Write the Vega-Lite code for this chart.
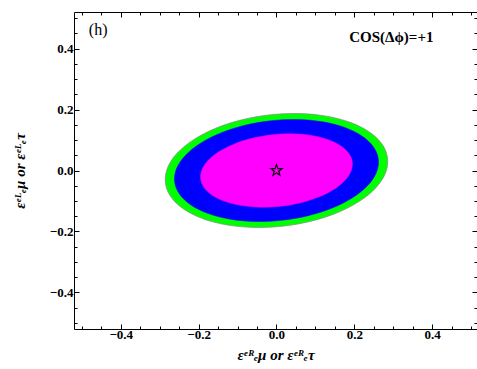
{
  "$schema": "https://vega.github.io/schema/vega-lite/v6.json",
  "autosize": "none",
  "width": 403,
  "height": 317,
  "padding": {"left": 74, "top": 12, "right": 0, "bottom": 40},
  "background": "white",
  "config": {"view": {"stroke": null}},
  "datasets": {
    "ell": [
      {"c": "g", "i": 0, "x": 0.2854, "y": 0.0396},
      {"c": "g", "i": 1, "x": 0.2717, "y": 0.0856},
      {"c": "g", "i": 2, "x": 0.2394, "y": 0.1257},
      {"c": "g", "i": 3, "x": 0.1908, "y": 0.1573},
      {"c": "g", "i": 4, "x": 0.1292, "y": 0.1781},
      {"c": "g", "i": 5, "x": 0.0589, "y": 0.1868},
      {"c": "g", "i": 6, "x": -0.0155, "y": 0.1828},
      {"c": "g", "i": 7, "x": -0.0889, "y": 0.1663},
      {"c": "g", "i": 8, "x": -0.1562, "y": 0.1385},
      {"c": "g", "i": 9, "x": -0.2128, "y": 0.1012},
      {"c": "g", "i": 10, "x": -0.2549, "y": 0.0571},
      {"c": "g", "i": 11, "x": -0.2797, "y": 0.0091},
      {"c": "g", "i": 12, "x": -0.2854, "y": -0.0396},
      {"c": "g", "i": 13, "x": -0.2717, "y": -0.0856},
      {"c": "g", "i": 14, "x": -0.2394, "y": -0.1257},
      {"c": "g", "i": 15, "x": -0.1908, "y": -0.1573},
      {"c": "g", "i": 16, "x": -0.1292, "y": -0.1781},
      {"c": "g", "i": 17, "x": -0.0589, "y": -0.1868},
      {"c": "g", "i": 18, "x": 0.0155, "y": -0.1828},
      {"c": "g", "i": 19, "x": 0.0889, "y": -0.1663},
      {"c": "g", "i": 20, "x": 0.1562, "y": -0.1385},
      {"c": "g", "i": 21, "x": 0.2128, "y": -0.1012},
      {"c": "g", "i": 22, "x": 0.2549, "y": -0.0571},
      {"c": "g", "i": 23, "x": 0.2797, "y": -0.0091},
      {"c": "b", "i": 0, "x": 0.2616, "y": 0.0363},
      {"c": "b", "i": 1, "x": 0.2491, "y": 0.0773},
      {"c": "b", "i": 2, "x": 0.2196, "y": 0.1131},
      {"c": "b", "i": 3, "x": 0.1752, "y": 0.1412},
      {"c": "b", "i": 4, "x": 0.1188, "y": 0.1596},
      {"c": "b", "i": 5, "x": 0.0543, "y": 0.1672},
      {"c": "b", "i": 6, "x": -0.0139, "y": 0.1633},
      {"c": "b", "i": 7, "x": -0.0811, "y": 0.1484},
      {"c": "b", "i": 8, "x": -0.1428, "y": 0.1233},
      {"c": "b", "i": 9, "x": -0.1948, "y": 0.0898},
      {"c": "b", "i": 10, "x": -0.2335, "y": 0.0502},
      {"c": "b", "i": 11, "x": -0.2563, "y": 0.0072},
      {"c": "b", "i": 12, "x": -0.2616, "y": -0.0363},
      {"c": "b", "i": 13, "x": -0.2491, "y": -0.0773},
      {"c": "b", "i": 14, "x": -0.2196, "y": -0.1131},
      {"c": "b", "i": 15, "x": -0.1752, "y": -0.1412},
      {"c": "b", "i": 16, "x": -0.1188, "y": -0.1596},
      {"c": "b", "i": 17, "x": -0.0543, "y": -0.1672},
      {"c": "b", "i": 18, "x": 0.0139, "y": -0.1633},
      {"c": "b", "i": 19, "x": 0.0811, "y": -0.1484},
      {"c": "b", "i": 20, "x": 0.1428, "y": -0.1233},
      {"c": "b", "i": 21, "x": 0.1948, "y": -0.0898},
      {"c": "b", "i": 22, "x": 0.2335, "y": -0.0502},
      {"c": "b", "i": 23, "x": 0.2563, "y": -0.0072},
      {"c": "m", "i": 0, "x": 0.1947, "y": 0.0270},
      {"c": "m", "i": 1, "x": 0.1855, "y": 0.0565},
      {"c": "m", "i": 2, "x": 0.1636, "y": 0.0821},
      {"c": "m", "i": 3, "x": 0.1306, "y": 0.1021},
      {"c": "m", "i": 4, "x": 0.0887, "y": 0.1151},
      {"c": "m", "i": 5, "x": 0.0407, "y": 0.1203},
      {"c": "m", "i": 6, "x": -0.0100, "y": 0.1174},
      {"c": "m", "i": 7, "x": -0.0600, "y": 0.1064},
      {"c": "m", "i": 8, "x": -0.1060, "y": 0.0881},
      {"c": "m", "i": 9, "x": -0.1447, "y": 0.0639},
      {"c": "m", "i": 10, "x": -0.1736, "y": 0.0353},
      {"c": "m", "i": 11, "x": -0.1906, "y": 0.0043},
      {"c": "m", "i": 12, "x": -0.1947, "y": -0.0270},
      {"c": "m", "i": 13, "x": -0.1855, "y": -0.0565},
      {"c": "m", "i": 14, "x": -0.1636, "y": -0.0821},
      {"c": "m", "i": 15, "x": -0.1306, "y": -0.1021},
      {"c": "m", "i": 16, "x": -0.0887, "y": -0.1151},
      {"c": "m", "i": 17, "x": -0.0407, "y": -0.1203},
      {"c": "m", "i": 18, "x": 0.0100, "y": -0.1174},
      {"c": "m", "i": 19, "x": 0.0600, "y": -0.1064},
      {"c": "m", "i": 20, "x": 0.1060, "y": -0.0881},
      {"c": "m", "i": 21, "x": 0.1447, "y": -0.0639},
      {"c": "m", "i": 22, "x": 0.1736, "y": -0.0353},
      {"c": "m", "i": 23, "x": 0.1906, "y": -0.0043}
    ],
    "star": [{"x": 0, "y": 0}],
    "labels": [
      {"x": -0.458, "y": 0.46, "t": "(h)", "k": "h"},
      {"x": 0.295, "y": 0.438, "t": "COS(Δϕ)=+1", "k": "c"}
    ]
  },
  "layer": [
    {
      "data": {"name": "ell"},
      "transform": [{"filter": "datum.c === 'g'"}],
      "mark": {"type": "line", "interpolate": "cardinal-closed", "fill": "#00ff00", "stroke": "#888888", "strokeWidth": 0.7},
      "encoding": {
        "x": {"field": "x", "type": "quantitative", "scale": {"domain": [-0.52, 0.515], "nice": false, "zero": false},
          "axis": {"orient": "bottom", "title": "εᵉᴿₑμ or εᵉᴿₑτ", "values": [-0.5,-0.45,-0.4,-0.35,-0.3,-0.25,-0.2,-0.15,-0.1,-0.05,0,0.05,0.1,0.15,0.2,0.25,0.3,0.35,0.4,0.45,0.5],
            "format": ".1f", "labelExpr": "abs(datum.value*5-round(datum.value*5))<0.001 ? datum.label : ''",
            "tickSize": {"condition": {"test": "abs(datum.value*5-round(datum.value*5))<0.001", "value": -5}, "value": -3},
            "tickColor": "black", "domainColor": "black", "grid": false, "labelFont": "Liberation Serif", "labelFontWeight": "bold", "labelFontSize": 13, "labelColor": "black", "labelPadding": 4, "labelFlush": false,
            "titleFont": "Liberation Serif", "titleFontWeight": "bold", "titleFontStyle": "italic", "titleFontSize": 15, "titleColor": "black", "titlePadding": 6}},
        "y": {"field": "y", "type": "quantitative", "scale": {"domain": [-0.52, 0.52], "nice": false, "zero": false},
          "axis": {"orient": "left", "title": "εᵉᴸₑμ or εᵉᴸₑτ", "values": [-0.5,-0.45,-0.4,-0.35,-0.3,-0.25,-0.2,-0.15,-0.1,-0.05,0,0.05,0.1,0.15,0.2,0.25,0.3,0.35,0.4,0.45,0.5],
            "format": ".1f", "labelExpr": "abs(datum.value*5-round(datum.value*5))<0.001 ? datum.label : ''",
            "tickSize": {"condition": {"test": "abs(datum.value*5-round(datum.value*5))<0.001", "value": -5}, "value": -3},
            "tickColor": "black", "domainColor": "black", "grid": false, "labelFont": "Liberation Serif", "labelFontWeight": "bold", "labelFontSize": 13, "labelColor": "black", "labelPadding": 6, "labelFlush": false,
            "titleFont": "Liberation Serif", "titleFontWeight": "bold", "titleFontStyle": "italic", "titleFontSize": 15, "titleColor": "black", "titlePadding": 22}},
        "order": {"field": "i", "type": "quantitative"}
      }
    },
    {
      "data": {"name": "ell"},
      "transform": [{"filter": "datum.c === 'b'"}],
      "mark": {"type": "line", "interpolate": "cardinal-closed", "fill": "#0000ff", "stroke": "#0000ff", "strokeWidth": 0.5},
      "encoding": {
        "x": {"field": "x", "type": "quantitative", "scale": {"domain": [-0.52, 0.515], "nice": false, "zero": false}, "axis": null},
        "y": {"field": "y", "type": "quantitative", "scale": {"domain": [-0.52, 0.52], "nice": false, "zero": false}, "axis": null},
        "order": {"field": "i", "type": "quantitative"}
      }
    },
    {
      "data": {"name": "ell"},
      "transform": [{"filter": "datum.c === 'm'"}],
      "mark": {"type": "line", "interpolate": "cardinal-closed", "fill": "#ff00ff", "stroke": "#ff00ff", "strokeWidth": 0.5},
      "encoding": {
        "x": {"field": "x", "type": "quantitative", "scale": {"domain": [-0.52, 0.515], "nice": false, "zero": false}, "axis": null},
        "y": {"field": "y", "type": "quantitative", "scale": {"domain": [-0.52, 0.52], "nice": false, "zero": false}, "axis": null},
        "order": {"field": "i", "type": "quantitative"}
      }
    },
    {
      "data": {"name": "star"},
      "mark": {"type": "point", "shape": "M0,-1L0.235,-0.324L0.951,-0.309L0.38,0.124L0.588,0.809L0,0.4L-0.588,0.809L-0.38,0.124L-0.951,-0.309L-0.235,-0.324Z", "filled": false, "stroke": "black", "strokeWidth": 1.2, "size": 140, "opacity": 1},
      "encoding": {
        "x": {"field": "x", "type": "quantitative", "scale": {"domain": [-0.52, 0.515], "nice": false, "zero": false},
          "axis": {"orient": "top", "title": null, "labels": false, "values": [-0.5,-0.45,-0.4,-0.35,-0.3,-0.25,-0.2,-0.15,-0.1,-0.05,0,0.05,0.1,0.15,0.2,0.25,0.3,0.35,0.4,0.45,0.5],
            "tickSize": {"condition": {"test": "abs(datum.value*5-round(datum.value*5))<0.001", "value": -5}, "value": -3},
            "tickColor": "black", "domainColor": "black", "grid": false}},
        "y": {"field": "y", "type": "quantitative", "scale": {"domain": [-0.52, 0.52], "nice": false, "zero": false},
          "axis": {"orient": "right", "title": null, "labels": false, "values": [-0.5,-0.45,-0.4,-0.35,-0.3,-0.25,-0.2,-0.15,-0.1,-0.05,0,0.05,0.1,0.15,0.2,0.25,0.3,0.35,0.4,0.45,0.5],
            "tickSize": {"condition": {"test": "abs(datum.value*5-round(datum.value*5))<0.001", "value": -5}, "value": -3},
            "tickColor": "black", "domainColor": "black", "grid": false}}
      }
    },
    {
      "data": {"name": "labels"},
      "transform": [{"filter": "datum.k === 'h'"}],
      "mark": {"type": "text", "font": "Liberation Serif", "fontSize": 16, "fontWeight": "normal", "color": "black", "align": "center", "baseline": "middle"},
      "encoding": {
        "x": {"field": "x", "type": "quantitative", "scale": {"domain": [-0.52, 0.515], "nice": false, "zero": false}, "axis": null},
        "y": {"field": "y", "type": "quantitative", "scale": {"domain": [-0.52, 0.52], "nice": false, "zero": false}, "axis": null},
        "text": {"field": "t"}
      }
    },
    {
      "data": {"name": "labels"},
      "transform": [{"filter": "datum.k === 'c'"}],
      "mark": {"type": "text", "font": "Liberation Serif", "fontSize": 15, "fontWeight": "bold", "color": "black", "align": "center", "baseline": "middle"},
      "encoding": {
        "x": {"field": "x", "type": "quantitative", "scale": {"domain": [-0.52, 0.515], "nice": false, "zero": false}, "axis": null},
        "y": {"field": "y", "type": "quantitative", "scale": {"domain": [-0.52, 0.52], "nice": false, "zero": false}, "axis": null},
        "text": {"field": "t"}
      }
    }
  ],
  "resolve": {"axis": {"x": "independent", "y": "independent"}}
}
